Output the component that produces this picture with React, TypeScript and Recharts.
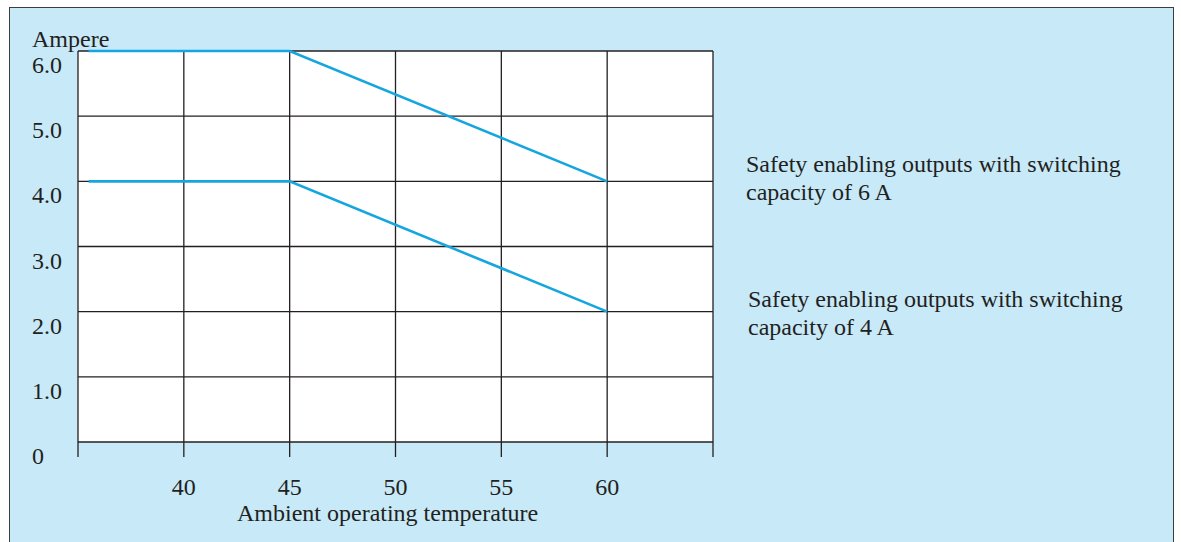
import React from "react";
import { LineChart, Line, XAxis, YAxis, CartesianGrid } from "recharts";

// derating curves: ambient temperature (°C) vs. permitted current (A)
const temps6A = [35.5, 45, 60];
const amps6A = [6, 6, 4];
const temps4A = [35.5, 45, 60];
const amps4A = [4, 4, 2];

const xTicks = [35, 40, 45, 50, 55, 60, 65];
const yTicks = [0, 1, 2, 3, 4, 5, 6];
const labels6A = ["Safety enabling outputs with switching", "capacity of 6 A"];
const labels4A = ["Safety enabling outputs with switching", "capacity of 4 A"];

const data6A = temps6A.map((t, i) => ({ t, a: amps6A[i] }));
const data4A = temps4A.map((t, i) => ({ t, a: amps4A[i] }));

const FONT = '"Liberation Serif", "Times New Roman", serif';
const INK = "#231f20";
const BLUE = "#16a6df";

const XTick = (props: any) => {
  const v = props.payload.value;
  if (v === 35 || v === 65) return null;
  return (
    <text x={props.x} y={props.y + 36} textAnchor="middle" fill={INK} fontSize={24} fontFamily={FONT}>
      {v}
    </text>
  );
};

const YTick = (props: any) => {
  const v = props.payload.value;
  return (
    <text x={32} y={props.y + 22} textAnchor="start" fill={INK} fontSize={24} fontFamily={FONT}>
      {v === 0 ? "0" : v.toFixed(1)}
    </text>
  );
};

const textStyle: React.CSSProperties = {
  position: "absolute",
  fontFamily: FONT,
  fontSize: 24,
  lineHeight: "28px",
  color: INK,
  whiteSpace: "nowrap",
};

export default function App() {
  return (
    <div style={{ position: "fixed", left: 0, top: 0, width: 1181, height: 542, overflow: "hidden", background: "#fff" }}>
      <div
        style={{
          position: "absolute",
          left: 9,
          top: 7,
          width: 1165,
          height: 545,
          boxSizing: "border-box",
          border: "1.5px solid #3d3d3d",
          background: "#c8e9f8",
        }}
      />
      <div style={{ position: "absolute", left: 0, top: 0 }}>
        <LineChart width={1181} height={542} margin={{ top: 51, right: 468, bottom: 0, left: 0 }}>
          <CartesianGrid fill="#fff" stroke={INK} strokeWidth={1.3} fillOpacity={1} />
          <XAxis
            dataKey="t"
            type="number"
            domain={[35, 65]}
            ticks={xTicks}
            height={100}
            axisLine={false}
            tickSize={15}
            tickLine={{ stroke: INK, strokeWidth: 1.3 }}
            tick={<XTick />}
            interval={0}
          />
          <YAxis
            dataKey="a"
            type="number"
            domain={[0, 6]}
            ticks={yTicks}
            width={78}
            axisLine={false}
            tickLine={false}
            tick={<YTick />}
            interval={0}
          />
          <Line data={data6A} dataKey="a" stroke={BLUE} strokeWidth={2.6} dot={false} isAnimationActive={false} />
          <Line data={data4A} dataKey="a" stroke={BLUE} strokeWidth={2.6} dot={false} isAnimationActive={false} />
        </LineChart>
      </div>
      <div style={{ ...textStyle, left: 32, top: 25 }}>Ampere</div>
      <div style={{ ...textStyle, left: 237, top: 503, lineHeight: "20px" }}>Ambient operating temperature</div>
      <div style={{ ...textStyle, left: 746, top: 150 }}>
        {labels6A.map((l) => (
          <div key={l}>{l}</div>
        ))}
      </div>
      <div style={{ ...textStyle, left: 748, top: 285 }}>
        {labels4A.map((l) => (
          <div key={l}>{l}</div>
        ))}
      </div>
    </div>
  );
}
